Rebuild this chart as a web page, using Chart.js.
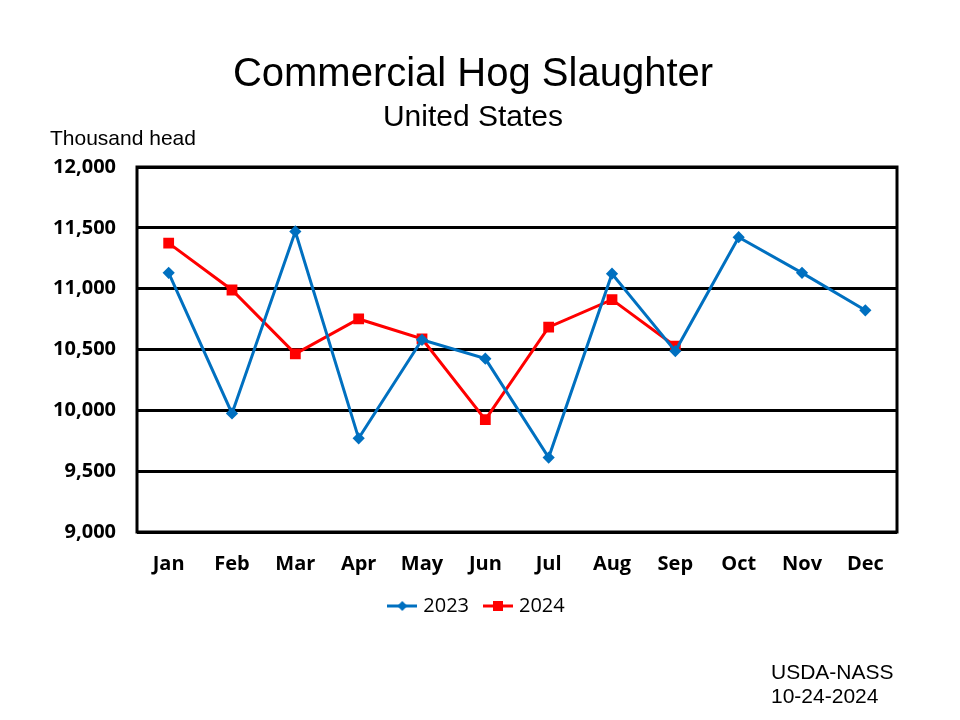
<!DOCTYPE html>
<html>
<head>
<meta charset="utf-8">
<script src="https://cdn.jsdelivr.net/npm/chart.js@4.4.1/dist/chart.umd.min.js"></script>
<style>
  html, body { margin: 0; padding: 0; background: #fff; }
  #wrap { position: relative; width: 960px; height: 720px; }
  canvas { position: absolute; left: 0; top: 0; }
  .t { position: absolute; white-space: nowrap; color: #000; }
  #title { left: 0; width: 946px; text-align: center; top: 50px; font: 40px "Liberation Sans", Arial, sans-serif; }
  #sub { left: 0; width: 946px; text-align: center; top: 99px; font: 30px "Liberation Sans", Arial, sans-serif; }
  #unit { left: 50px; top: 126px; font: 21px "Liberation Sans", Arial, sans-serif; }
  #src { left: 771px; top: 660px; font: 21px/24px "Liberation Sans", Arial, sans-serif; }
</style>
</head>
<body>
<div id="wrap">
  <canvas id="c" width="960" height="720"></canvas>
  <div class="t" id="title">Commercial Hog Slaughter</div>
  <div class="t" id="sub">United States</div>
  <div class="t" id="unit">Thousand head</div>
  <div class="t" id="src">USDA-NASS<br>10-24-2024</div>
</div>
<script>
const months = ["Jan","Feb","Mar","Apr","May","Jun","Jul","Aug","Sep","Oct","Nov","Dec"];
const seriesNames = ["2023", "2024"];
const values2023 = [11130, 9975, 11470, 9770, 10580, 10425, 9612, 11123, 10487, 11423, 11130, 10822];
const values2024 = [11374, 10989, 10464, 10751, 10587, 9923, 10683, 10910, 10527, null, null, null];
const yMin = 9000, yMax = 12000, yStep = 500;

const BLUE = "#0070C0", RED = "#FF0000";
const ICON_W = 30;

function legendIcon(color, style) {
  const cv = document.createElement("canvas");
  cv.width = ICON_W; cv.height = 14;
  const g = cv.getContext("2d");
  g.strokeStyle = color; g.lineWidth = 3;
  g.beginPath(); g.moveTo(0, 7); g.lineTo(ICON_W, 7); g.stroke();
  g.fillStyle = color;
  const c = ICON_W / 2;
  if (style === "rect") { g.fillRect(c - 5, 2, 10, 10); }
  else { g.beginPath(); g.moveTo(c, 2); g.lineTo(c + 5, 7); g.lineTo(c, 12); g.lineTo(c - 5, 7); g.closePath(); g.fill(); }
  return cv;
}

const frame = {
  id: "frame",
  afterDraw(chart) {
    const a = chart.chartArea, g = chart.ctx;
    g.save(); g.strokeStyle = "#000"; g.lineWidth = 3;
    g.strokeRect(a.left, a.top, a.right - a.left, a.bottom - a.top);
    g.restore();
  }
};

const tickFont = { family: "'Open Sans', Lato, sans-serif", size: 20, weight: "bold" };

new Chart(document.getElementById("c"), {
  type: "line",
  data: {
    labels: months,
    datasets: [
      { label: seriesNames[0], data: values2023, borderColor: BLUE, backgroundColor: BLUE, borderWidth: 3,
        pointStyle: "rectRot", pointRadius: 4, pointHoverRadius: 4, tension: 0, _icon: legendIcon(BLUE, "rectRot") },
      { label: seriesNames[1], data: values2024, borderColor: RED, backgroundColor: RED, borderWidth: 3,
        pointStyle: "rect", pointRadius: 5.5, pointHoverRadius: 5.5, tension: 0, _icon: legendIcon(RED, "rect") }
    ]
  },
  options: {
    responsive: false,
    animation: false,
    layout: { padding: { top: 167, right: 4, bottom: 94, left: 0 } },
    scales: {
      x: {
        offset: true,
        grid: { display: false, drawTicks: false },
        border: { display: false },
        ticks: { color: "#000", font: tickFont, padding: 20, maxRotation: 0, autoSkip: false },
        afterFit(s) { s.height = 46; }
      },
      y: {
        min: yMin, max: yMax,
        grid: { color: "#000", lineWidth: 3, drawTicks: false },
        border: { display: false },
        ticks: { stepSize: yStep, color: "#000", padding: 21, font: tickFont,
          callback: v => v.toLocaleString("en-US") },
        afterFit(s) { s.width = 137; }
      },
      spacer: {
        position: "right",
        grid: { display: false, drawTicks: false },
        border: { display: false },
        ticks: { display: false },
        afterFit(s) { s.width = 59; }
      }
    },
    plugins: {
      title: { display: false },
      tooltip: { enabled: false },
      legend: {
        position: "bottom",
        labels: {
          usePointStyle: true,
          pointStyleWidth: 22,
          color: "#000",
          font: { family: "'Open Sans', Lato, sans-serif", size: 20 },
          padding: 18,
          generateLabels(chart) {
            return chart.data.datasets.map((d, i) => ({
              text: d.label, pointStyle: d._icon, fillStyle: d.borderColor, strokeStyle: d.borderColor,
              lineWidth: 0, hidden: false, datasetIndex: i, fontColor: "#000"
            }));
          }
        }
      }
    }
  },
  plugins: [frame]
});
</script>
</body>
</html>
